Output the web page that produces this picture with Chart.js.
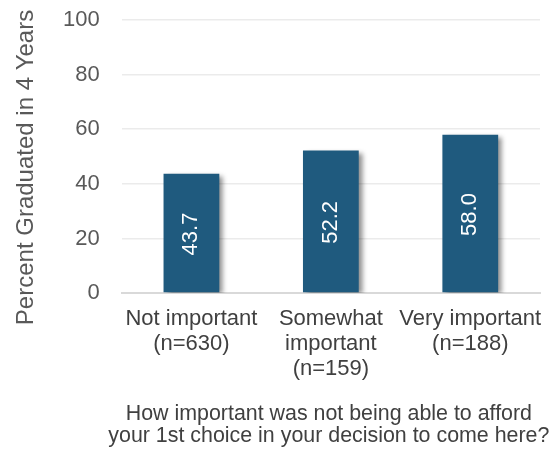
<!DOCTYPE html>
<html>
<head>
<meta charset="utf-8">
<script src="https://cdn.jsdelivr.net/npm/chart.js@4/dist/chart.umd.min.js"></script>
<style>
  html, body { margin: 0; padding: 0; background: #fff; }
  #wrap { width: 555px; height: 449px; position: relative; }
</style>
</head>
<body>
<div id="wrap"><canvas id="grafico"></canvas></div>
<script>
// Datos del grafico
const categorias = [
  ['Not important', '(n=630)'],
  ['Somewhat', 'important', '(n=159)'],
  ['Very important', '(n=188)']
];
const porcentajes = [43.7, 52.2, 58.0];
const ticksY = [0, 20, 40, 60, 80, 100];
const tituloY = 'Percent Graduated in 4 Years';
const tituloX = ['How important was not being able to afford', 'your 1st choice in your decision to come here?'];

const fuente = '"Liberation Sans", Arial, sans-serif';

// Sombra de las barras
const sombra = {
  id: 'sombra',
  beforeDatasetsDraw(chart) {
    const ctx = chart.ctx;
    ctx.save();
    ctx.shadowColor = 'rgba(0,0,0,0.45)';
    ctx.shadowBlur = 5;
    ctx.shadowOffsetX = 4;
    ctx.shadowOffsetY = 2;
  },
  afterDatasetsDraw(chart) {
    chart.ctx.restore();
  }
};

// Etiquetas verticales dentro de las barras
const etiquetas = {
  id: 'etiquetas',
  afterDatasetsDraw(chart) {
    const ctx = chart.ctx;
    const meta = chart.getDatasetMeta(0);
    meta.data.forEach((bar, i) => {
      const valor = chart.data.datasets[0].data[i];
      const y = (bar.y + bar.base) / 2 + 1;
      ctx.save();
      ctx.translate(bar.x, y);
      ctx.rotate(-Math.PI / 2);
      ctx.fillStyle = '#ffffff';
      ctx.font = '22px ' + fuente;
      ctx.textAlign = 'center';
      ctx.textBaseline = 'middle';
      ctx.fillText(valor.toFixed(1), 0, 0);
      ctx.restore();
    });
  }
};

// Titulos de los ejes (sin limite de ancho)
const titulos = {
  id: 'titulos',
  afterDraw(chart) {
    const ctx = chart.ctx;
    const area = chart.chartArea;
    ctx.save();
    // eje Y
    ctx.translate(32.5, 167.5);
    ctx.rotate(-Math.PI / 2);
    ctx.fillStyle = '#595959';
    ctx.font = '24px ' + fuente;
    ctx.textAlign = 'center';
    ctx.textBaseline = 'alphabetic';
    ctx.fillText(tituloY, 0, 0);
    ctx.restore();
    // eje X
    ctx.save();
    ctx.fillStyle = '#404040';
    ctx.font = '21.4px ' + fuente;
    ctx.textAlign = 'center';
    ctx.textBaseline = 'alphabetic';
    const cx = (area.left + area.right) / 2 - 2;
    ctx.fillText(tituloX[0], cx, chart.height - 29);
    ctx.fillText(tituloX[1], cx, chart.height - 7);
    ctx.restore();
  }
};

var ctx = document.getElementById('grafico').getContext('2d');
var myChart = new Chart(ctx, {
  type: 'bar',
  data: {
    labels: categorias,
    datasets: [{
      data: porcentajes,
      backgroundColor: '#1f5a7e',
      borderWidth: 0,
      categoryPercentage: 1,
      barPercentage: 0.4
    }]
  },
  options: {
    responsive: true,
    maintainAspectRatio: false,
    animation: false,
    layout: { padding: { top: 20, right: 15, left: 63, bottom: 68 } },
    plugins: {
      legend: { display: false },
      tooltip: { enabled: false }
    },
    scales: {
      x: {
        grid: {
          display: true,
          drawOnChartArea: false,
          drawTicks: true,
          tickLength: 14,
          tickColor: 'rgba(0,0,0,0)',
          color: 'rgba(0,0,0,0)'
        },
        border: { color: '#d9d9d9', width: 2 },
        ticks: {
          color: '#404040',
          font: { family: fuente, size: 22, lineHeight: 1.12 },
          padding: 0,
          maxRotation: 0,
          autoSkip: false
        }
      },
      y: {
        min: 0,
        max: 100,
        afterBuildTicks(axis) {
          axis.ticks = ticksY.map(v => ({ value: v }));
        },
        grid: {
          color: '#ebebeb',
          lineWidth: 1.5,
          drawTicks: true,
          tickLength: 22,
          tickColor: 'rgba(0,0,0,0)'
        },
        border: { display: false },
        ticks: {
          color: '#595959',
          font: { family: fuente, size: 22 },
          padding: 0
        }
      }
    }
  },
  plugins: [sombra, etiquetas, titulos]
});
</script>
</body>
</html>
